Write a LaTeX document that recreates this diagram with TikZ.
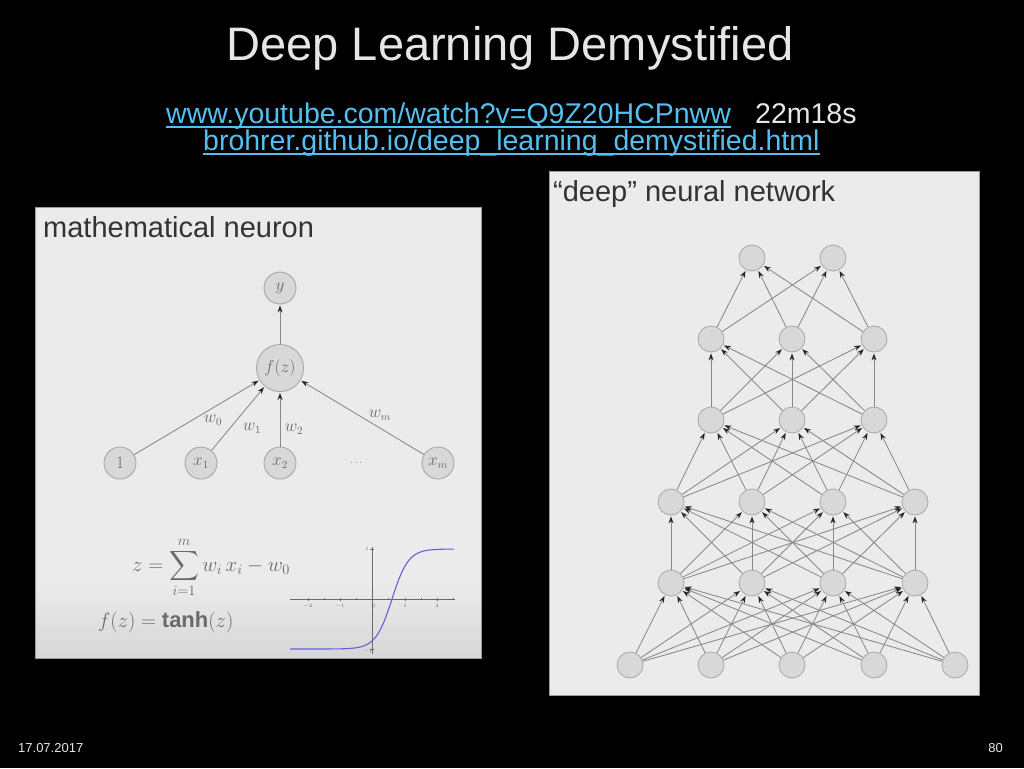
\documentclass[tikz,border=0pt]{standalone}
\usepackage{amsmath}
\usepackage{fontspec}
\setmainfont{Liberation Sans}
\usetikzlibrary{arrows.meta}
\definecolor{titlecol}{HTML}{E4E6E8}
\definecolor{urlcol}{HTML}{55BFF0}
\definecolor{panel}{HTML}{EBEBEB}
\definecolor{panelbot}{HTML}{D6D6D6}
\definecolor{panelline}{HTML}{9A9A9A}
\definecolor{nodefill}{HTML}{D8D8D8}
\definecolor{nodeline}{HTML}{A8A8A8}
\definecolor{edgecol}{HTML}{888888}
\definecolor{inkgray}{HTML}{6A6A6A}
\definecolor{headcol}{HTML}{333333}
\definecolor{curvecol}{HTML}{6262D8}
\begin{document}
\begin{tikzpicture}[x=1pt,y=-1pt,
  nn/.style={circle,draw=nodeline,fill=nodefill,line width=0.9pt,minimum size=32pt,inner sep=0pt,text=inkgray,font=\fontsize{16}{16}\selectfont},
  dn/.style={circle,draw=nodeline,fill=nodefill,line width=0.8pt,minimum size=26pt,inner sep=0pt},
  ed/.style={draw=edgecol,line width=0.85pt,-{Stealth[length=7pt,width=5pt,black!85]},shorten >=1pt},
  wl/.style={text=inkgray,font=\fontsize{16}{16}\selectfont,inner sep=0pt},
  hd/.style={text=headcol,font=\fontsize{29}{29}\selectfont,anchor=base west,inner sep=0pt},
  ul/.style={urlcol,line width=1.6pt},
  tk/.style={inkgray,line width=0.5pt},
  tl/.style={text=inkgray,font=\fontsize{4}{4}\selectfont,inner sep=0pt}
]
\fill[black] (0,0) rectangle (1024,768);
\useasboundingbox (0,0) rectangle (1024,768);

% header
\node[text=titlecol,font=\fontsize{47}{47}\selectfont,anchor=base,inner sep=0pt] (title) at (510,60) {Deep Learning Demystified};
\node[text=urlcol,font=\fontsize{28.5}{28.5}\selectfont,anchor=base west,inner sep=0pt] (url1) at (166,123) {www.youtube.com/watch?v=Q9Z20HCPnww};
\node[text=titlecol,font=\fontsize{28.5}{28.5}\selectfont,anchor=base west,inner sep=0pt] (time) at (755,123) {22m18s};
\node[text=urlcol,font=\fontsize{28.5}{28.5}\selectfont,anchor=base west,inner sep=0pt] (url2) at (203,150) {brohrer.github.io/deep\_learning\_demystified.html};
\draw[ul] ([yshift=-4pt]url1.base west) -- ([yshift=-4pt]url1.base east);
\draw[ul] ([yshift=-4pt]url2.base west) -- ([yshift=-4pt]url2.base east);

% footer
\node[text=titlecol,font=\fontsize{13}{13}\selectfont,anchor=base west,inner sep=0pt] (date) at (18,752) {17.07.2017};
\node[text=titlecol,font=\fontsize{13}{13}\selectfont,anchor=base east,inner sep=0pt] (page) at (1003,752) {80};

% left panel
\fill[panel] (35,207) rectangle (481,658);
\shade[top color=panel,bottom color=panelbot] (35,585) rectangle (481,658);
\draw[panelline,line width=0.6pt] (35,207) rectangle (481,658);
\node[hd] (lt) at (43,237) {mathematical neuron};

\node[nn] (y) at (280,288) {$y$};
\node[nn,minimum size=47pt,font=\fontsize{19}{19}\selectfont] (f) at (280,368) {$f(z)$};
\node[nn] (b) at (120,463) {$1$};
\node[nn] (x1) at (201,463) {$x_1$};
\node[nn] (x2) at (280,463) {$x_2$};
\node[text=inkgray,inner sep=0pt] (dots) at (357,463) {$\cdots$};
\node[nn] (xm) at (438,463) {$x_m$};
\draw[ed] (f) -- (y);
\draw[ed] (b) -- (f);
\draw[ed] (x1) -- (f);
\draw[ed] (x2) -- (f);
\draw[ed] (xm) -- (f);
\node[wl] (w0) at (213,420) {$w_0$};
\node[wl] (w1) at (252,428) {$w_1$};
\node[wl] (w2) at (294,429) {$w_2$};
\node[wl] (wm) at (380,415) {$w_m$};

\node[text=inkgray,font=\fontsize{22}{22}\selectfont,anchor=base west,inner sep=0pt] (eq1) at (132,571) {$\displaystyle z=\sum_{i=1}^{m} w_i\,x_i - w_0$};
\node[text=inkgray,font=\fontsize{22}{22}\selectfont,anchor=base west,inner sep=0pt] (eq2) at (98,627) {$f(z)=\mathbf{tanh}(z)$};

% tanh plot
\draw[tk] (290,599) -- (455,599);
\draw[tk] (372,547) -- (372,654);
\foreach \t in {308,340,405,437} \draw[tk] (\t,597.5) -- (\t,600.5);
\foreach \t in {324,356,388,421,453} \draw[tk] (\t,598) -- (\t,600);
\draw[tk] (370,549) -- (374,549);
\draw[tk] (370,649) -- (374,649);
\node[tl] at (308,606) {$-2$};
\node[tl] at (340,606) {$-1$};
\node[tl] at (374,606) {$0$};
\node[tl] at (405,606) {$1$};
\node[tl] at (437,606) {$2$};
\node[tl] at (367,549) {$1$};
\node[tl] at (368,651) {$-1$};
\draw[curvecol,line width=1.1pt,domain=290:454,samples=90,smooth] plot (\x,{599-50*tanh(0.061*(\x-392))});

% right panel
\fill[panel] (549,171) rectangle (979,695);
\draw[panelline,line width=0.6pt] (549,171) rectangle (979,695);
\node[hd] (rt) at (553,201) {“deep” neural network};

\foreach \x [count=\i] in {630,711,792,874,955} \node[dn] (n0-\i) at (\x,665) {};
\foreach \x [count=\i] in {671,752,833,915} \node[dn] (n1-\i) at (\x,583) {};
\foreach \x [count=\i] in {671,752,833,915} \node[dn] (n2-\i) at (\x,502) {};
\foreach \x [count=\i] in {711,792,874} \node[dn] (n3-\i) at (\x,420) {};
\foreach \x [count=\i] in {711,792,874} \node[dn] (n4-\i) at (\x,339) {};
\foreach \x [count=\i] in {752,833} \node[dn] (n5-\i) at (\x,258) {};

\foreach \i in {1,...,5} \foreach \j in {1,...,4} \draw[ed] (n0-\i) -- (n1-\j);
\foreach \i in {1,...,4} \foreach \j in {1,...,4} \draw[ed] (n1-\i) -- (n2-\j);
\foreach \i in {1,...,4} \foreach \j in {1,...,3} \draw[ed] (n2-\i) -- (n3-\j);
\foreach \i in {1,...,3} \foreach \j in {1,...,3} \draw[ed] (n3-\i) -- (n4-\j);
\foreach \i in {1,...,3} \foreach \j in {1,...,2} \draw[ed] (n4-\i) -- (n5-\j);
\end{tikzpicture}
\end{document}
